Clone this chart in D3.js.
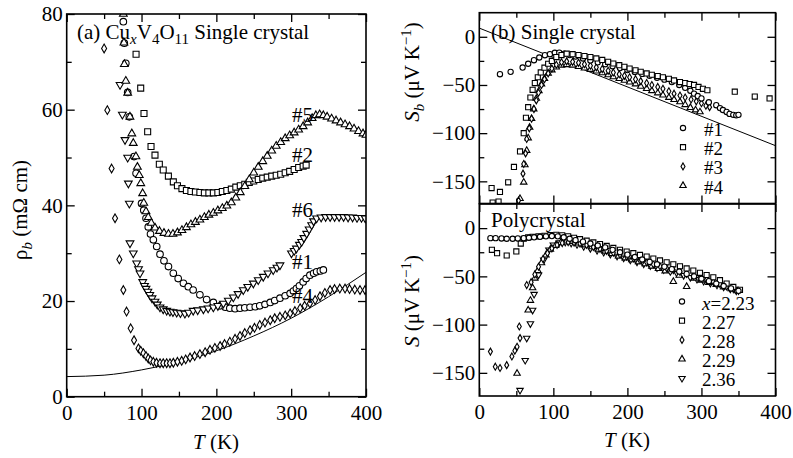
<!DOCTYPE html>
<html>
<head>
<meta charset="utf-8">
<script src="https://cdn.jsdelivr.net/npm/d3@7"></script>
<style>
  body { margin: 0; background: #fff; }
  text { font-family: "Liberation Serif", "Times New Roman", serif; fill: #000; }
</style>
</head>
<body>
<svg id="chart" width="793" height="458"></svg>
<script>
// ---- data: [T (K), value] ----
// (a) resistivity, single crystals
const rho5 = [[75.7,80],[76.5,74],[77,69.5],[79,66],[81.5,63.5],[84.5,58.5],[87,55],[89,53],[92.5,50.2],[94.5,48],[97,46.3],[99,44.6],[101.5,42.5],[103,40.5],[106,38.7],[109,37.5],[113,36.3],[118,35.3],[124,34.6],[130,34.2],[136,34],[142,34],[148,34.3],[154,34.8],[160,35.4],[166,36],[172,36.5],[178,37],[184,37.5],[190,38],[196,38.4],[202,38.9],[208,39.4],[214,39.9],[220,40.6],[226,41.6],[232,42.7],[238,44],[244,45.4],[250,46.8],[256,48],[262,49.2],[268,50.3],[274,51.4],[280,52.4],[286,53.2],[292,54],[298,54.6],[304,55.2],[310,55.8],[316,56.5],[322,57.3],[328,58.2],[333,58.8],[338,59],[343,58.8],[348,58.5],[354,58.1],[360,57.7],[366,57.3],[372,56.9],[378,56.5],[384,56],[390,55.5],[396,55],[400,54.7]];
const rho2 = [[92.7,71.6],[98.9,64.5],[103.3,59.2],[108.2,55.4],[112.7,52.3],[118,50.5],[123.8,48.6],[129,47.4],[135.9,46.1],[142.5,44.9],[148,44.1],[154,43.5],[160,43.1],[166,42.9],[172,42.8],[178,42.7],[184,42.6],[190,42.6],[196,42.6],[202,42.7],[208,42.9],[214,43.1],[220,43.4],[226,43.8],[232,44.1],[238,44.4],[244,44.8],[250,45.1],[256,45.4],[262,45.7],[268,45.9],[274,46.1],[280,46.3],[286,46.5],[292,46.8],[298,47.1],[304,47.5],[310,47.9],[316,48.2],[320,48.4]];
const rho6 = [[71.3,65.2],[74.4,59],[77.9,53.7],[81.5,50],[82.4,44.6],[83.7,40.4],[84.6,32.1],[89,30],[93.5,27.9],[96,26.7],[98,25.8],[101.6,24],[104,23.2],[106,22.6],[108.5,22],[111,21.3],[114,20.6],[118,19.9],[121,19.3],[124.7,18.7],[129,18.3],[133.6,18],[138,17.8],[142,17.7],[147,17.6],[152,17.5],[158,17.4],[163,17.6],[169,18],[175,18.1],[182.7,18.3],[189,18.5],[196,18.7],[202,19],[209.4,19.5],[216,20.1],[222.7,20.8],[229,21.5],[236,22.3],[242,23],[249.4,23.7],[256,24.4],[262.7,25.1],[269,25.8],[276,26.5],[281,27],[285,27.5],
  [300.4,30],[304,30.5],[307,31],[311,31.8],[314,32.4],[317,33.2],[320.7,34.1],[324,35],[327.4,35.9],[330,36.7],[334,37.3],[340,37.5],[346,37.6],[352,37.6],[358,37.6],[364,37.6],[370,37.6],[376,37.5],[382,37.5],[388,37.4],[394,37.4],[399,37.3]];
const rho1 = [[75.7,78.4],[77,73.9],[79,69.7],[81.5,63.6],[83.7,58.5],[90,50.2],[92.7,46.7],[100,40.4],[103,39],[106,37.3],[109,35.5],[112,34],[115.8,32.8],[120.3,31.4],[124.7,29.8],[130,28.4],[136,27.2],[142.5,25.8],[149,24.7],[156,23.7],[162.5,23],[169,22.3],[178,21.3],[187,20.3],[196,19.7],[205,19],[212,18.7],[218,18.5],[225,18.4],[231.6,18.5],[238,18.6],[245,18.7],[252,18.8],[258,19],[265,19.3],[272,19.7],[278,20.1],[285,20.6],[292,21.1],[298.6,21.6],[303,22.1],[307,22.6],[311,23.2],[316,24],[320,24.7],[325,25.4],[330,25.8],[334,26.1],[339,26.3],[343,26.5]];
const rho4 = [[50,72.8],[54.3,59.9],[60,47.7],[64.6,37.3],[70.4,28.7],[75.7,22.3],[80,17.8],[85.5,14.3],[90,11.8],[95.9,10.1],[99,9.6],[102.5,9.1],[106,8.5],[109,8],[112,7.6],[115.8,7.3],[120,7.1],[124.7,7],[129,7],[133.6,7],[138,7],[142.5,7.1],[148,7.3],[153.7,7.5],[159,7.8],[164.8,8.2],[171,8.5],[178,8.9],[185,9.3],[191.5,9.8],[198,10.2],[205,10.6],[211,11],[218,11.5],[225,12.1],[231.6,12.7],[238,13.3],[245,13.9],[251,14.4],[258,15],[265,15.5],[272,16],[278,16.4],[285,16.7],[292,17],[298.6,17.4],[305,17.9],[312,18.5],[318,19],[325,19.5],[332,20.2],[338.5,21],[345,21.7],[352,22.3],[358,22.5],[365,22.6],[372,22.6],[378,22.5],[385,22.4],[392,22.3],[398.7,22.3]];
const rhoFit = [[0,4.2],[50,4.5],[100,5.6],[150,7.3],[200,9.6],[250,12.7],[300,16.4],[350,20.9],[400,26.0]];
const rhoLabels = ['#5', '#2', '#6', '#1', '#4'];

// (b) thermopower, single crystals
const sb1 = [[27.9,-38.8],[42.3,-36.4],[58.5,-31.9],[66,-28],[73.8,-24.3],[81,-21.5],[88.6,-19.1],[95.4,-18],[102,-16.6],[108,-16.5],[115,-17.5],[122,-19],[130,-20.5],[140,-22.5],[150,-24.5],[160,-26.5],[170,-28.5],[180,-30.5],[190,-32.5],[200,-34.5],[210,-36.5],[220,-38.5],[230,-40.5],[240,-42.5],[250,-44.5],[260,-47],[270,-50],[278,-53],[285,-56],[290,-59],[295,-61.5],[300,-64],[310,-68],[320,-71],[325,-74],[329,-76],[334,-78],[338,-80],[343,-81],[347,-81.5],[350,-81]];
const sb2 = [[18,-172],[26,-171],[16.6,-157],[27.9,-161],[39,-151],[46.8,-135],[55,-119],[60,-100],[63,-84],[66,-73],[69,-63],[72,-55],[75,-48],[79,-42],[83,-37],[88,-32],[93,-28],[98,-25],[104,-21],[111,-19],[118,-17.5],[126,-18],[134,-19],[142,-20],[150,-21],[158,-22.5],[166,-24],[174,-26],[181,-27.7],[189,-29.5],[196,-31.2],[203,-33],[211,-34.7],[218,-36.3],[226,-38],[233,-39.4],[241,-40.7],[248,-42],[256,-43.6],[263,-45.3],[271,-47],[278,-48],[284,-49],[290,-50],[296,-52],[302,-54],[308,-55.5],[345,-57],[372,-62],[392,-64]];
const sb3 = [[53,-170],[59,-142],[60,-132],[62.5,-121],[64,-106],[67.5,-95],[70.6,-85],[73.8,-75],[77,-66],[80,-58],[84,-50],[88,-44],[93,-38],[98,-33],[104,-29],[111,-26.5],[118,-25.5],[126,-26],[134,-27],[142,-28.5],[150,-30],[158,-31.7],[166,-33.5],[174,-35.3],[181,-37],[189,-38.8],[196,-40.5],[203,-42],[211,-44],[218,-46],[226,-48],[233,-50],[241,-52],[248,-54],[256,-56.5],[263,-59],[271,-61],[278,-63],[286,-65],[293,-67],[300,-69],[306,-71.5],[311,-73]];
const sb4 = [[55,-168],[60,-151],[61.6,-133],[64,-118],[66,-105],[68,-94],[70.6,-85],[73.5,-75],[77,-64],[80.5,-56],[84,-49],[88,-43.5],[93,-38],[98,-34.5],[104,-31.5],[111,-29.5],[118,-29],[126,-29.5],[134,-31],[142,-32.5],[150,-34],[158,-35.6],[166,-37.4],[174,-39.5],[181,-41.6],[189,-43.5],[196,-45.3],[203,-47],[211,-49],[218,-51.5],[226,-53.8],[233,-56],[241,-58.3],[248,-60.6],[256,-63],[263,-65.2],[271,-67.6],[278,-70.5],[285,-73.5],[292,-76],[298,-78]];
const sbFit = [[0,9],[400,-113]];
const sbLabels = ['#1', '#2', '#3', '#4'];

// (b) thermopower, polycrystals
const s223 = [[15,-10.4],[22,-10.4],[30,-10.7],[37,-11],[45,-11],[52,-10.7],[60,-10.4],[67,-10],[74,-9.5],[82,-9],[90,-8.5],[98,-8.2],[106,-8.5],[114,-9.5],[122,-11],[130,-12.5],[140,-14],[150,-16],[160,-18],[170,-20],[180,-22.5],[190,-25],[200,-27.5],[210,-30],[220,-32.5],[230,-35],[240,-37.5],[250,-40],[260,-42.5],[270,-45],[280,-47.5],[290,-50],[300,-52.5],[310,-55],[320,-57.5],[330,-60],[340,-62.5],[350,-65]];
const s227 = [[17,-22.5],[24,-26],[37,-28.4],[50,-24.2],[56,-16],[60,-11],[66,-9.5],[72,-9],[80,-8.5],[88,-8],[96,-7.2],[104,-7],[112,-7.5],[120,-8.5],[128,-10],[136,-11.5],[145,-13],[154,-14.8],[163,-16.5],[172,-18.5],[181,-20.5],[190,-22.5],[199,-24.3],[208,-26],[217,-27.8],[226,-29.5],[235,-31.5],[244,-33.5],[253,-35.5],[262,-37.5],[271,-39.5],[280,-41.8],[289,-44],[298,-46.3],[307,-48.6],[316,-51],[325,-54],[334,-57.5],[343,-61],[352,-64]];
const s228 = [[15,-128],[21.6,-143.6],[28,-145],[37,-142],[44,-133],[48,-127],[51,-123],[55,-114],[54,-102],[64,-59],[70,-56],[75,-48],[80,-40],[86,-32],[92,-26],[98,-21],[105,-17.5],[112,-15.5],[120,-14.5],[128,-15],[136,-16],[145,-17.5],[154,-19.5],[163,-21.5],[172,-23.5],[181,-25.5],[190,-27.5],[199,-29.5],[208,-31.5],[217,-33.5],[226,-35.5],[235,-37.5],[244,-39.5],[253,-41.5],[262,-43.5],[271,-45.5],[280,-47.5],[289,-49.5],[298,-51.5],[307,-53.5],[316,-55.5],[325,-58],[334,-60.5],[343,-63],[350,-65]];
const s229 = [[51,-150.6],[66,-85],[69,-75],[72,-62],[75,-52],[79,-44],[84,-36],[90,-28],[96,-22],[103,-18],[110,-15],[118,-13.5],[126,-14],[134,-15.5],[143,-17.5],[152,-19.5],[161,-22],[170,-24],[179,-26.5],[188,-29],[197,-31],[206,-33],[215,-35],[224,-37],[233,-39.5],[242,-42],[251,-44.5],[262,-55.4],[270,-49],[280,-60.6],[290,-52],[300,-54],[310,-56.5],[320,-58.5],[330,-61],[340,-63],[348,-65]];
const s236 = [[55,-168],[62,-137],[64,-114],[69,-99],[72,-85],[74,-68.5],[80,-48.5],[87,-33],[94,-22.5],[100,-17.3],[108,-15],[116,-14.5],[124,-15.5],[132,-17],[141,-19],[150,-21],[159,-23],[168,-25],[177,-27],[186,-29],[195,-31],[204,-33],[213,-35],[222,-37],[231,-39],[240,-41],[249,-43],[258,-45],[267,-47],[276,-49],[285,-51],[294,-53],[303,-55],[312,-57],[321,-59],[330,-61],[339,-63],[347,-65]];
const polyLabels = ['2.23', '2.27', '2.28', '2.29', '2.36'];

const xTicksMajor = [0, 100, 200, 300, 400];
const xTicksMinor = [50, 150, 250, 350];
const rhoTicksMajor = [0, 20, 40, 60, 80];
const rhoTicksMinor = [10, 30, 50, 70];
const sTicksMajor = [-150, -100, -50, 0];
const sTicksMinor = [-125, -75, -25];

// ---- drawing ----
const svg = d3.select('#chart');
svg.append('rect').attr('width', 793).attr('height', 458).attr('fill', '#fff');

const FONT = 21;
const SERIF = '"Liberation Serif", "Times New Roman", serif';

const xA = d3.scaleLinear().domain([0, 400]).range([66.7, 366]);
const yA = d3.scaleLinear().domain([0, 80]).range([396.7, 14]);
const xB = d3.scaleLinear().domain([0, 400]).range([479.3, 775.5]);
const yB1 = d3.scaleLinear().domain([-173, 25]).range([203.5, 12.7]);
const yB2 = d3.scaleLinear().domain([-174, 25]).range([396, 204]);

function frame(xs, ys, xMaj, xMin, yMaj, yMin, xLabels, yLabels) {
  const g = svg.append('g');
  const [xl, xr] = xs.range();
  const yb = ys.range()[0], yt = ys.range()[1];
  const fmt = d3.format('d');

  function put(axis, tx, ty, vals, len, labels) {
    const a = g.append('g')
      .attr('transform', 'translate(' + tx + ',' + ty + ')')
      .call(axis.tickValues(vals).tickSize(-len).tickSizeOuter(0)
        .tickPadding(labels ? 8 : 0)
        .tickFormat(labels ? fmt : ''));
    a.select('.domain').remove();
    a.attr('font-family', SERIF);
    a.selectAll('line').attr('stroke', '#000').attr('stroke-width', 1.3);
    a.selectAll('text').style('font-size', FONT + 'px')
      .style('font-family', SERIF).attr('fill', '#000');
    return a;
  }
  put(d3.axisBottom(xs), 0, yb, xMaj, 8, xLabels);
  put(d3.axisBottom(xs), 0, yb, xMin, 5, false);
  put(d3.axisTop(xs), 0, yt, xMaj, 8, false);
  put(d3.axisTop(xs), 0, yt, xMin, 5, false);
  const la = put(d3.axisLeft(ys), xl, 0, yMaj, 8, yLabels);
  la.selectAll('text').attr('x', -4);
  put(d3.axisLeft(ys), xl, 0, yMin, 5, false);
  put(d3.axisRight(ys), xr, 0, yMaj, 8, false);
  put(d3.axisRight(ys), xr, 0, yMin, 5, false);

  g.append('rect')
    .attr('x', xl).attr('y', yt)
    .attr('width', xr - xl).attr('height', yb - yt)
    .attr('fill', 'none').attr('stroke', '#000').attr('stroke-width', 1.6);
  return g;
}

let clipId = 0;
function plotArea(xs, ys) {
  const id = 'clip' + (clipId++);
  const [xl, xr] = xs.range();
  const yb = ys.range()[0], yt = ys.range()[1];
  svg.append('clipPath').attr('id', id).append('rect')
    .attr('x', xl).attr('y', yt).attr('width', xr - xl).attr('height', yb - yt);
  return svg.append('g').attr('clip-path', 'url(#' + id + ')');
}

const shapes = {
  circle: d3.symbolCircle,
  square: d3.symbolSquare,
  diamond: d3.symbolDiamond,
  up: d3.symbolTriangle,
  down: d3.symbolTriangle
};

function markers(g, data, xs, ys, kind, size) {
  const sym = d3.symbol().type(shapes[kind]).size(size);
  g.append('g').selectAll('path')
    .data(data)
    .join('path')
    .attr('d', sym)
    .attr('transform', d => 'translate(' + xs(d[0]) + ',' + ys(d[1]) + ')' + (kind === 'down' ? ' rotate(180)' : ''))
    .attr('fill', '#fff')
    .attr('stroke', '#000')
    .attr('stroke-width', 1.1);
}

function fitLine(g, data, xs, ys) {
  g.append('path')
    .datum(data)
    .attr('d', d3.line().x(d => xs(d[0])).y(d => ys(d[1])).curve(d3.curveMonotoneX))
    .attr('fill', 'none').attr('stroke', '#000').attr('stroke-width', 1);
}

// panel (a)
const gA = plotArea(xA, yA);
fitLine(gA, rhoFit, xA, yA);
markers(gA, rho4, xA, yA, 'diamond', 22);
markers(gA, rho1, xA, yA, 'circle', 34);
markers(gA, rho6, xA, yA, 'down', 26);
markers(gA, rho2, xA, yA, 'square', 36);
markers(gA, rho5, xA, yA, 'up', 26);
frame(xA, yA, xTicksMajor, xTicksMinor, rhoTicksMajor, rhoTicksMinor, true, true);

// panel (b) single crystal
const gB1 = plotArea(xB, yB1);
fitLine(gB1, sbFit, xB, yB1);
markers(gB1, sb4, xB, yB1, 'up', 18);
markers(gB1, sb3, xB, yB1, 'diamond', 14);
markers(gB1, sb1, xB, yB1, 'circle', 22);
markers(gB1, sb2, xB, yB1, 'square', 26);
frame(xB, yB1, xTicksMajor, xTicksMinor, sTicksMajor, sTicksMinor, false, true);

// panel (b) polycrystal
const gB2 = plotArea(xB, yB2);
markers(gB2, s236, xB, yB2, 'down', 18);
markers(gB2, s229, xB, yB2, 'up', 18);
markers(gB2, s228, xB, yB2, 'diamond', 14);
markers(gB2, s227, xB, yB2, 'square', 26);
markers(gB2, s223, xB, yB2, 'circle', 22);
frame(xB, yB2, xTicksMajor, xTicksMinor, sTicksMajor, sTicksMinor, true, true);

// ---- text ----
function txt(x, y, size) {
  return svg.append('text').attr('x', x).attr('y', y)
    .style('font-family', SERIF).style('font-size', size + 'px');
}

// panel titles
const tA = txt(77, 39, 21);
tA.append('tspan').text('(a) Cu');
tA.append('tspan').attr('dy', 5).style('font-size', '15px').style('font-style', 'italic').text('x');
tA.append('tspan').attr('dy', -5).text('V');
tA.append('tspan').attr('dy', 5).style('font-size', '15px').text('4');
tA.append('tspan').attr('dy', -5).text('O');
tA.append('tspan').attr('dy', 5).style('font-size', '15px').text('11');
tA.append('tspan').attr('dy', -5).text(' Single crystal');

txt(491, 38.5, 21).text('(b) Single crystal');
txt(491, 226.5, 21).text('Polycrystal');

// curve labels in (a)
const rhoLabelY = [122, 161.5, 216.5, 269, 302.5];
rhoLabels.forEach((s, i) => txt(292, rhoLabelY[i], 21).text(s));

// legends in (b)
const sbKinds = ['circle', 'square', 'diamond', 'up'];
const sbSizes = [22, 26, 14, 18];
const legTop = svg.append('g');
sbLabels.forEach((s, i) => {
  const y = 136 + i * 19.2;
  markers(legTop, [[0, 0]], v => 683, v => y - 8, sbKinds[i], sbSizes[i]);
  txt(704, y, 19).text(s);
});
const polyKinds = ['circle', 'square', 'diamond', 'up', 'down'];
const polySizes = [22, 26, 14, 18, 18];
const legBot = svg.append('g');
polyLabels.forEach((s, i) => {
  const y = 309.5 + i * 19.2;
  markers(legBot, [[0, 0]], v => 682, v => y - 8, polyKinds[i], polySizes[i]);
  const t = txt(702, y, 19);
  if (i === 0) {
    t.append('tspan').style('font-style', 'italic').text('x');
    t.append('tspan').text('=' + s);
  } else {
    t.text(s);
  }
});

// axis titles
function xTitle(cx, y) {
  const t = svg.append('text').attr('x', cx).attr('y', y)
    .attr('text-anchor', 'middle')
    .style('font-family', SERIF).style('font-size', '21px');
  t.append('tspan').style('font-style', 'italic').text('T');
  t.append('tspan').text(' (K)');
}
xTitle(216, 449);
xTitle(627, 447);

const yl = svg.append('text')
  .attr('transform', 'translate(27,210) rotate(-90)')
  .attr('text-anchor', 'middle')
  .style('font-family', SERIF).style('font-size', '21px');
yl.append('tspan').text('\u03c1');
yl.append('tspan').attr('dy', 5).style('font-size', '15px').style('font-style', 'italic').text('b');
yl.append('tspan').attr('dy', -5).text(' (m\u03a9 cm)');

function sTitle(cy, sub) {
  const t = svg.append('text')
    .attr('transform', 'translate(419,' + cy + ') rotate(-90)')
    .attr('text-anchor', 'middle')
    .style('font-family', SERIF).style('font-size', '21px');
  t.append('tspan').style('font-style', 'italic').text('S');
  if (sub) t.append('tspan').attr('dy', 5).style('font-size', '15px').style('font-style', 'italic').text(sub);
  t.append('tspan').attr('dy', sub ? -5 : 0).text(' (\u03bcV K');
  t.append('tspan').attr('dy', -8).style('font-size', '15px').text('\u22121');
  t.append('tspan').attr('dy', 8).text(')');
}
sTitle(72, 'b');
sTitle(301, null);
</script>
</body>
</html>
